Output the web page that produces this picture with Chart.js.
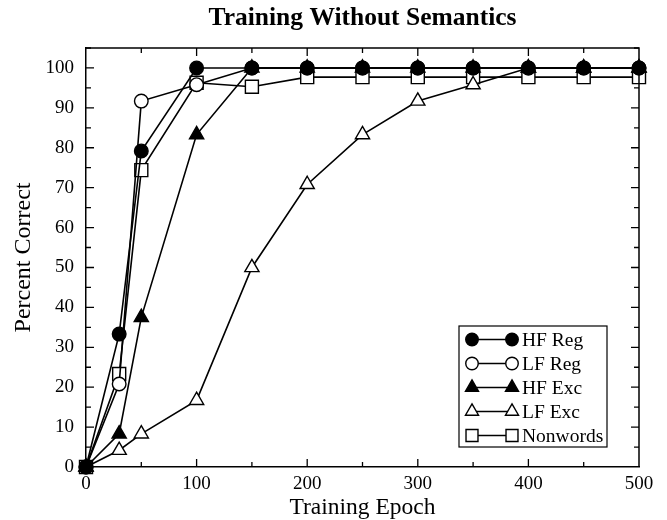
<!DOCTYPE html>
<html><head><meta charset="utf-8">
<script src="https://cdn.jsdelivr.net/npm/chart.js@4.4.1/dist/chart.umd.min.js"></script>
<style>html,body{margin:0;padding:0;background:#fff}</style>
</head><body>
<canvas id="c" width="667" height="520"></canvas>
<script>
// ---- data ----
const epochs   = [0, 30, 50, 100, 150, 200, 250, 300, 350, 400, 450, 500];
const hfReg    = [0, 33.3, 79.2, 100, 100, 100, 100, 100, 100, 100, 100, 100];
const lfReg    = [0, 20.8, 91.7, 95.8, 100, 100, 100, 100, 100, 100, 100, 100];
const hfExc    = [0, 8.3, 37.5, 83.3, 100, 100, 100, 100, 100, 100, 100, 100];
const lfExc    = [0, 4.2, 8.3, 16.7, 50, 70.8, 83.3, 91.7, 95.8, 100, 100, 100];
const nonwords = [0, 23.3, 74.4, 96.3, 95.3, 97.7, 97.7, 97.7, 97.7, 97.7, 97.7, 97.7];
const seriesNames = ['HF Reg', 'LF Reg', 'HF Exc', 'LF Exc', 'Nonwords'];
const xTickValues = [0, 100, 200, 300, 400, 500];
const yTickValues = [0, 10, 20, 30, 40, 50, 60, 70, 80, 90, 100];

const SERIF = '"Liberation Serif", "Times New Roman", serif';
Chart.defaults.color = '#000';
Chart.defaults.font.family = SERIF;

function pts(ys) { return epochs.map((e, i) => ({ x: e, y: ys[i] })); }

const styles = [
  { data: hfReg,    pointStyle: 'circle',   radius: 6.8, fill: '#000' },
  { data: lfReg,    pointStyle: 'circle',   radius: 6.8, fill: '#fff' },
  { data: hfExc,    pointStyle: 'triangle', radius: 8.2, fill: '#000' },
  { data: lfExc,    pointStyle: 'triangle', radius: 8.2, fill: '#fff' },
  { data: nonwords, pointStyle: 'rect',     radius: 9.2, fill: '#fff' }
];

const datasets = styles.map((s, i) => ({
  label: seriesNames[i],
  data: pts(s.data),
  borderColor: '#000',
  borderWidth: 1.6,
  pointStyle: s.pointStyle,
  pointRadius: s.radius,
  pointHoverRadius: s.radius,
  pointBackgroundColor: s.fill,
  pointBorderColor: '#000',
  pointBorderWidth: 1.4,
  tension: 0,
  clip: false
}));

// inward ticks on all four sides + top/right frame
const framePlugin = {
  id: 'frame',
  afterDatasetsDraw(chart) {
    const { ctx, chartArea: a, scales: { x, y } } = chart;
    ctx.save();
    ctx.strokeStyle = '#000';
    ctx.lineWidth = 1.5;
    ctx.beginPath();
    ctx.moveTo(a.left, a.top); ctx.lineTo(a.right, a.top); ctx.lineTo(a.right, a.bottom);
    ctx.stroke();
    ctx.lineWidth = 1.3;
    ctx.beginPath();
    for (let v = 0; v <= 500; v += 50) {
      const px = x.getPixelForValue(v);
      const len = (v % 100 === 0) ? 8 : 5;
      if (v !== 0 && v !== 500) {
        ctx.moveTo(px, a.bottom); ctx.lineTo(px, a.bottom - len);
        ctx.moveTo(px, a.top); ctx.lineTo(px, a.top + len);
      }
    }
    for (let v = 0; v <= 105; v += 5) {
      const py = y.getPixelForValue(v);
      const len = (v % 10 === 0) ? 8 : 5;
      if (v !== 0) {
        ctx.moveTo(a.left, py); ctx.lineTo(a.left + len, py);
        ctx.moveTo(a.right, py); ctx.lineTo(a.right - len, py);
      }
    }
    ctx.stroke();
    ctx.restore();
  }
};

// legend with marker-line-marker samples
const legendPlugin = {
  id: 'boxLegend',
  afterDraw(chart) {
    const { ctx } = chart;
    const box = { l: 459, t: 326, r: 607, b: 447 };
    ctx.save();
    ctx.fillStyle = '#fff';
    ctx.fillRect(box.l, box.t, box.r - box.l, box.b - box.t);
    ctx.strokeStyle = '#000';
    ctx.lineWidth = 1.2;
    ctx.strokeRect(box.l, box.t, box.r - box.l, box.b - box.t);
    const rowH = 24, y0 = 339.5, x1 = 472, x2 = 512;
    chart.data.datasets.forEach((ds, i) => {
      const yy = y0 + i * rowH;
      ctx.strokeStyle = '#000';
      ctx.lineWidth = 1.3;
      ctx.beginPath(); ctx.moveTo(x1, yy); ctx.lineTo(x2, yy); ctx.stroke();
      [x1, x2].forEach(px => {
        ctx.fillStyle = ds.pointBackgroundColor;
        ctx.strokeStyle = '#000';
        ctx.lineWidth = 1.4;
        Chart.helpers.drawPoint(ctx, { pointStyle: ds.pointStyle, radius: ds.pointRadius * 0.92, borderWidth: 1.4, rotation: 0 }, px, yy);
      });
      ctx.fillStyle = '#000';
      ctx.font = '19.5px ' + SERIF;
      ctx.textBaseline = 'middle';
      ctx.textAlign = 'left';
      ctx.fillText(ds.label, 522, yy + 1);
    });
    ctx.restore();
  }
};

new Chart(document.getElementById('c'), {
  type: 'line',
  data: { datasets },
  plugins: [framePlugin, legendPlugin],
  options: {
    responsive: false,
    animation: false,
    devicePixelRatio: 1,
    layout: { padding: { left: 0, right: 28, top: 0, bottom: 0 } },
    plugins: {
      legend: { display: false },
      tooltip: { enabled: false },
      title: {
        display: true,
        fullSize: false,
        text: 'Training Without Semantics',
        color: '#000',
        font: { family: SERIF, size: 25.5, weight: 'bold', lineHeight: 1.2 },
        padding: { top: 3.2, bottom: 14.2 }
      }
    },
    scales: {
      x: {
        type: 'linear',
        min: 0, max: 500,
        afterFit(s) { s.height = 53; },
        afterBuildTicks(s) { s.ticks = xTickValues.map(v => ({ value: v })); },
        grid: { display: true, drawOnChartArea: false, drawTicks: false },
        border: { display: true, color: '#000', width: 1.5 },
        ticks: { padding: 6, font: { family: SERIF, size: 19 }, color: '#000', maxRotation: 0 },
        title: {
          display: true, text: 'Training Epoch', color: '#000',
          font: { family: SERIF, size: 23.5, lineHeight: 1 },
          padding: { top: 0, bottom: 0 }
        }
      },
      y: {
        type: 'linear',
        min: 0, max: 105,
        afterFit(s) { s.width = 86; },
        afterBuildTicks(s) { s.ticks = yTickValues.map(v => ({ value: v })); },
        grid: { display: true, drawOnChartArea: false, drawTicks: false },
        border: { display: true, color: '#000', width: 1.5 },
        ticks: { padding: 12, font: { family: SERIF, size: 19 }, color: '#000' },
        title: {
          display: true, text: 'Percent Correct', color: '#000',
          font: { family: SERIF, size: 24, lineHeight: 1.2 },
          padding: { top: 9, bottom: 0 }
        }
      }
    }
  }
});
</script>
</body></html>
